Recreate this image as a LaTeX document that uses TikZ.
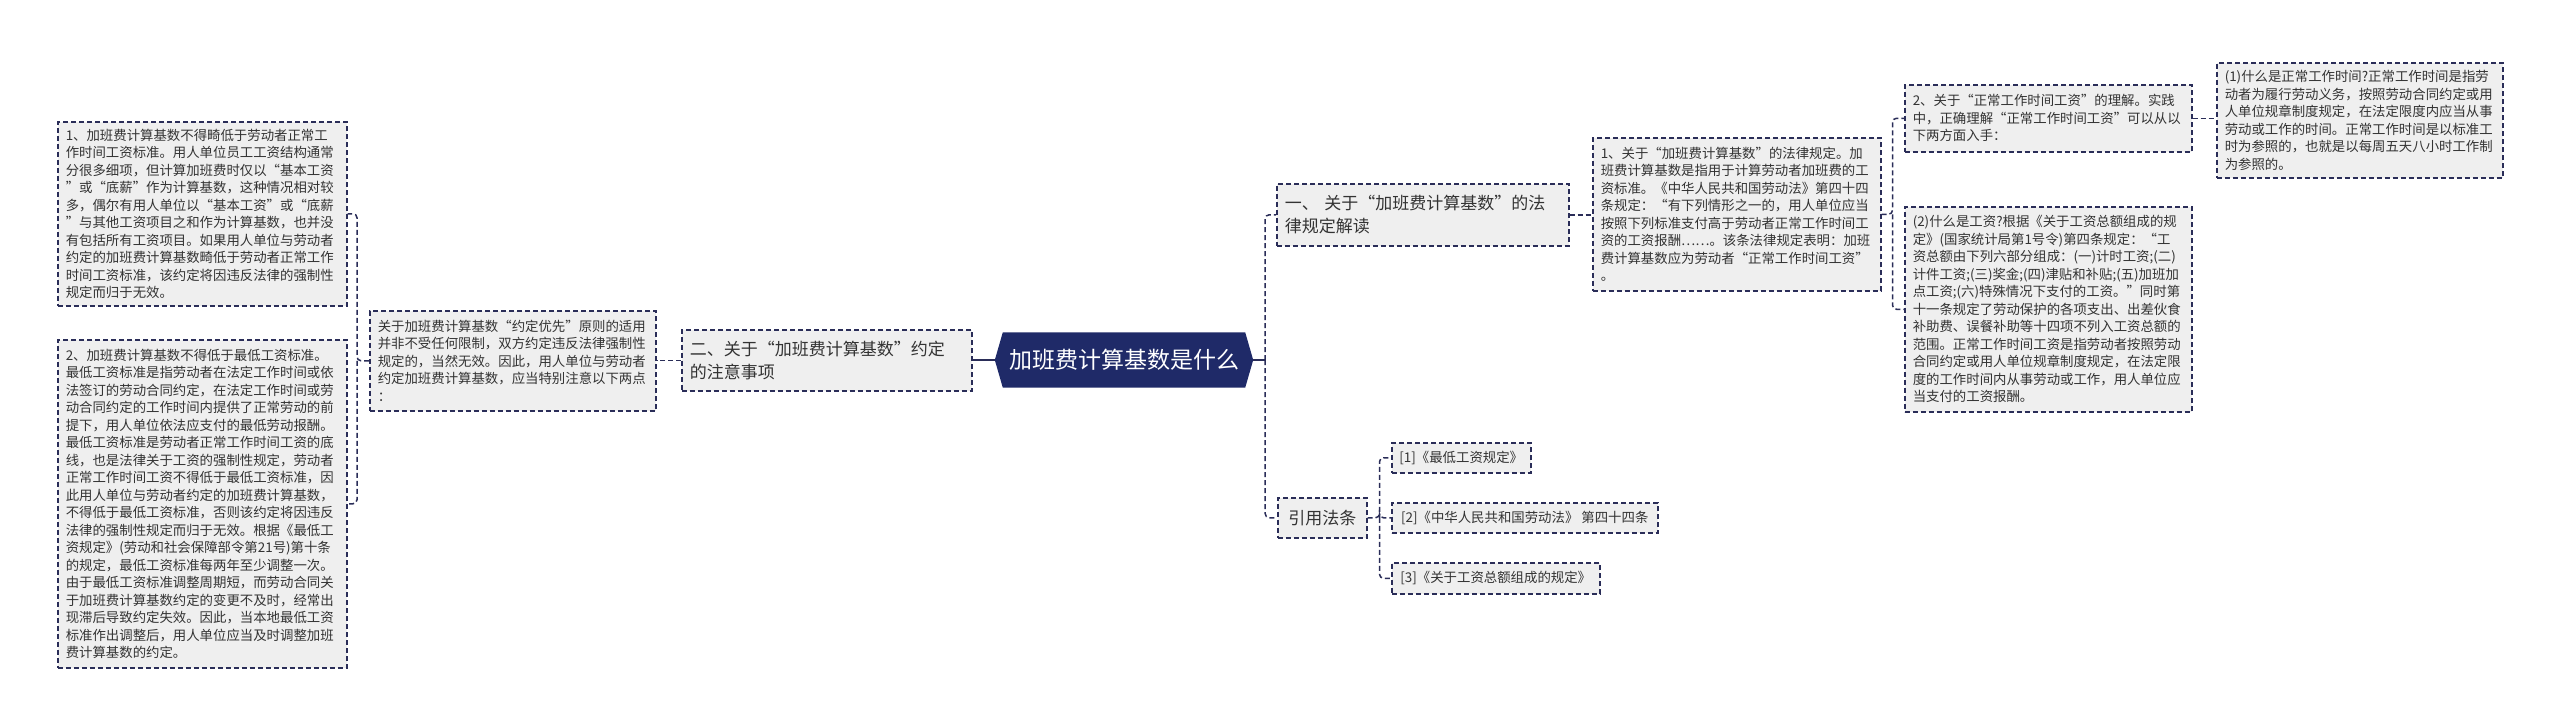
\documentclass[tikz,border=0pt]{standalone}
\usepackage{fontspec}
\setmainfont{Noto Sans CJK SC}
\usetikzlibrary{calc,backgrounds}
\definecolor{navy}{HTML}{1F2A68}
\definecolor{edge}{HTML}{2A2D58}
\definecolor{boxfill}{HTML}{EFEFEF}
\definecolor{txt}{HTML}{333333}
\tikzset{
  leaf/.style={draw=edge, line width=1.5pt, dash pattern=on 5pt off 3pt, fill=boxfill,
    text=txt, align=left, anchor=north west, inner xsep=8pt, inner ysep=0pt,
    font=\fontsize{13.4pt}{17.5pt}\selectfont},
  sz/.style 2 args={text width=#1, minimum height=#2},
  topic/.style={leaf, font=\fontsize{17pt}{23pt}\selectfont},
  reflabel/.style={leaf, inner xsep=0pt, font=\fontsize{13.4pt}{17pt}\selectfont},
  rsz/.style 2 args={minimum width=#1, minimum height=#2},
  rootbox/.style={text=white, minimum width=258pt, minimum height=55pt, inner sep=0pt,
    font=\fontsize{23pt}{27pt}\selectfont},
  link/.style={draw=edge, line width=1.5pt, dash pattern=on 5pt off 3pt, rounded corners=4pt},
  solidlink/.style={draw=edge, line width=1.7pt}
}
\begin{document}
\begin{tikzpicture}[x=1pt,y=-1pt]
\useasboundingbox (0,0) rectangle (2560,726);

% root
\node[rootbox] (root) at (1124,360) {加班费计算基数是什么};
\begin{scope}[on background layer]
\fill[white] (0,0) rectangle (2560,726);
\fill[navy] (root.west) -- ($(root.north west)+(8,0)$) -- ($(root.north east)+(-8,0)$)
  -- (root.east) -- ($(root.south east)+(-8,0)$) -- ($(root.south west)+(8,0)$) -- cycle;
\end{scope}

% left branch
\node[topic, sz={274pt}{61pt}] (L1) at (681,329) {二、关于“加班费计算基数”约定\\的注意事项};
\node[leaf, sz={270pt}{100pt}] (M) at (369,310) {关于加班费计算基数“约定优先”原则的适用\\并非不受任何限制，双方约定违反法律强制性\\规定的，当然无效。因此，用人单位与劳动者\\约定加班费计算基数，应当特别注意以下两点\\：};
\node[leaf, sz={273pt}{184pt}] (B1) at (57,121) {1、加班费计算基数不得畸低于劳动者正常工\\作时间工资标准。用人单位员工工资结构通常\\分很多细项，但计算加班费时仅以“基本工资\\”或“底薪”作为计算基数，这种情况相对较\\多，偶尔有用人单位以“基本工资”或“底薪\\”与其他工资项目之和作为计算基数，也并没\\有包括所有工资项目。如果用人单位与劳动者\\约定的加班费计算基数畸低于劳动者正常工作\\时间工资标准，该约定将因违反法律的强制性\\规定而归于无效。};
\node[leaf, sz={273pt}{328pt}] (B2) at (57,339) {2、加班费计算基数不得低于最低工资标准。\\最低工资标准是指劳动者在法定工作时间或依\\法签订的劳动合同约定，在法定工作时间或劳\\动合同约定的工作时间内提供了正常劳动的前\\提下，用人单位依法应支付的最低劳动报酬。\\最低工资标准是劳动者正常工作时间工资的底\\线，也是法律关于工资的强制性规定，劳动者\\正常工作时间工资不得低于最低工资标准，因\\此用人单位与劳动者约定的加班费计算基数，\\不得低于最低工资标准，否则该约定将因违反\\法律的强制性规定而归于无效。根据《最低工\\资规定》(劳动和社会保障部令第21号)第十条\\的规定，最低工资标准每两年至少调整一次。\\由于最低工资标准调整周期短，而劳动合同关\\于加班费计算基数约定的变更不及时，经常出\\现滞后导致约定失效。因此，当本地最低工资\\标准作出调整后，用人单位应当及时调整加班\\费计算基数的约定。};

% right branch
\node[topic, sz={276pt}{62pt}] (L1a) at (1276,183) {一、 关于“加班费计算基数”的法\\律规定解读};
\node[topic, align=center, minimum width=89pt, minimum height=40pt, inner xsep=0pt] (Cite) at (1277,497) {引用法条};
\node[leaf, sz={272pt}{153pt}] (R1) at (1592,137) {1、关于“加班费计算基数”的法律规定。加\\班费计算基数是指用于计算劳动者加班费的工\\资标准。《中华人民共和国劳动法》第四十四\\条规定：“有下列情形之一的，用人单位应当\\按照下列标准支付高于劳动者正常工作时间工\\资的工资报酬……。该条法律规定表明：加班\\费计算基数应为劳动者“正常工作时间工资”\\。};
\node[leaf, sz={271pt}{67pt}] (R2) at (1904,84) {2、关于“正常工作时间工资”的理解。实践\\中，正确理解“正常工作时间工资”可以从以\\下两方面入手：};
\node[leaf, sz={270pt}{115pt}] (R3) at (2216,62) {(1)什么是正常工作时间?正常工作时间是指劳\\动者为履行劳动义务，按照劳动合同约定或用\\人单位规章制度规定，在法定限度内应当从事\\劳动或工作的时间。正常工作时间是以标准工\\时为参照的，也就是以每周五天八小时工作制\\为参照的。};
\node[leaf, sz={271pt}{205pt}] (R4) at (1904,206) {(2)什么是工资?根据《关于工资总额组成的规\\定》(国家统计局第1号令)第四条规定：“工\\资总额由下列六部分组成：(一)计时工资;(二)\\计件工资;(三)奖金;(四)津贴和补贴;(五)加班加\\点工资;(六)特殊情况下支付的工资。”同时第\\十一条规定了劳动保护的各项支出、出差伙食\\补助费、误餐补助等十四项不列入工资总额的\\范围。正常工作时间工资是指劳动者按照劳动\\合同约定或用人单位规章制度规定，在法定限\\度的工作时间内从事劳动或工作，用人单位应\\当支付的工资报酬。};
\node[reflabel, rsz={139pt}{30pt}] (F1) at (1391,442) {[1]《最低工资规定》};
\node[reflabel, rsz={266pt}{30pt}] (F2) at (1391,502) {[2]《中华人民共和国劳动法》 第四十四条};
\node[reflabel, rsz={208pt}{31pt}] (F3) at (1391,562) {[3]《关于工资总额组成的规定》};

% connectors left
\draw[solidlink] (root.west) -- (root.west -| L1.east);
\draw[link] (L1.west) -- (L1.west -| M.east);
\draw[link] (M.west) -- ++(-12,0) coordinate (lt) |- (B1.east);
\draw[link] (lt) |- (B2.east);

% connectors right
\draw[solidlink] (root.east) -- ++(12,0) coordinate (rt);
\draw[link] (rt) |- (L1a.west);
\draw[link] (rt) |- (Cite.west);
\draw[link] (L1a.east) -- (L1a.east -| R1.west);
\draw[link] (R1.east) -- ++(11,0) coordinate (rt2) |- (R2.west);
\draw[link] (rt2) |- (R4.west);
\draw[link] (R2.east) -- (R2.east -| R3.west);
\draw[link] (Cite.east) -- ++(12,0) coordinate (rt3) |- (F1.west);
\draw[link] (rt3) |- (F2.west);
\draw[link] (rt3) |- (F3.west);
\end{tikzpicture}
\end{document}
